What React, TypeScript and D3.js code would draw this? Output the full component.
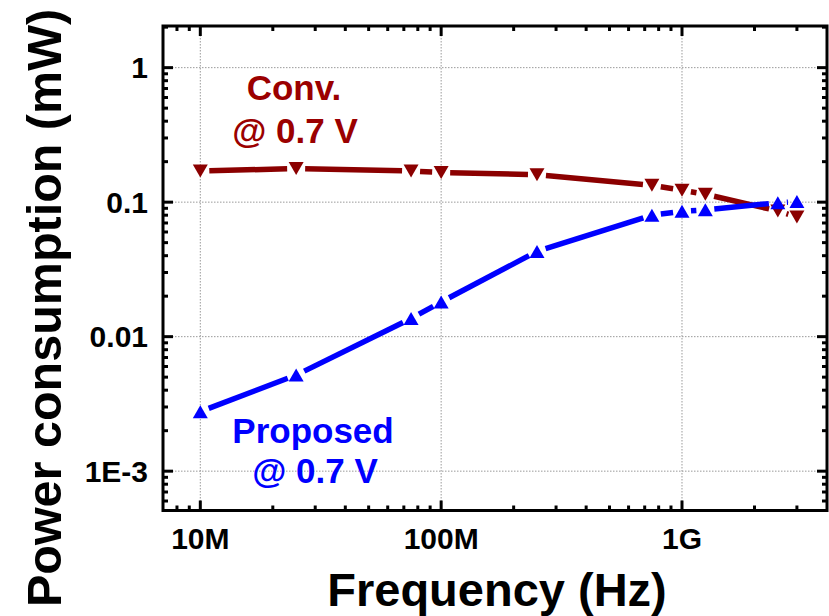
import React from "react";
import * as d3 from "d3";

// frequency points (Hz)
const freqs = [1e7, 2.5e7, 7.5e7, 1e8, 2.5e8, 7.5e8, 1e9, 1.25e9, 2.5e9, 3e9];
// power (mW)
const convPower = [0.1705, 0.1776, 0.1705, 0.166, 0.16, 0.1335, 0.1225, 0.1145, 0.086, 0.0776];
const proposedPower = [0.00277, 0.00518, 0.01365, 0.0181, 0.043, 0.08, 0.0855, 0.0877, 0.099, 0.101];

const xTicks = [1e7, 1e8, 1e9];
const xTickLabels = ["10M", "100M", "1G"];
const yTicks = [1e-3, 1e-2, 1e-1, 1];
const yTickLabels = ["1E-3", "0.01", "0.1", "1"];

const W = 829;
const H = 616;
const left = 163, right = 827, top = 26, bottom = 510.5;
const font = "'Liberation Sans', Arial, sans-serif";
const RED = "#8b0000";
const BLUE = "#0000ff";

const x = d3.scaleLog().domain([7e6, 4e9]).range([left, right]);
const y = d3.scaleLog().domain([5.1e-4, 2.04]).range([bottom, top]);

function minorTicks(scale: any) {
  const [a, b] = scale.domain();
  const out: number[] = [];
  for (let e = Math.floor(Math.log10(a)); e <= Math.ceil(Math.log10(b)); e++) {
    for (let m = 2; m <= 9; m++) {
      const v = m * Math.pow(10, e);
      if (v > a && v < b) out.push(v);
    }
  }
  return out;
}

const tri = (up: boolean) => {
  const w = 15, h = 13;
  return up
    ? `M0,${-h / 2}L${w / 2},${h / 2}L${-w / 2},${h / 2}Z`
    : `M0,${h / 2}L${w / 2},${-h / 2}L${-w / 2},${-h / 2}Z`;
};

function Series({ values, color, up }: { values: number[]; color: string; up: boolean }) {
  const pts = freqs.map((f, i) => [x(f), y(values[i])]);
  const gap = 9;
  const segs = [];
  for (let i = 0; i < pts.length - 1; i++) {
    const [x1, y1] = pts[i];
    const [x2, y2] = pts[i + 1];
    const len = Math.hypot(x2 - x1, y2 - y1);
    if (len <= 2 * gap) continue;
    const ux = (x2 - x1) / len, uy = (y2 - y1) / len;
    segs.push(
      <line key={i} x1={x1 + ux * gap} y1={y1 + uy * gap} x2={x2 - ux * gap} y2={y2 - uy * gap}
        stroke={color} strokeWidth={5.5} />
    );
  }
  return (
    <g>
      {segs}
      {pts.map(([px, py], i) => (
        <path key={i} d={tri(up)} transform={`translate(${px},${py})`} fill={color} />
      ))}
    </g>
  );
}

export default function App() {
  const xMinor = minorTicks(x);
  const yMinor = minorTicks(y);
  return (
    <div style={{ position: "absolute", left: 0, top: 0 }}>
      <svg width={W} height={H} style={{ display: "block", background: "#fff" }} fontFamily={font} fontWeight="bold">
        {/* grid */}
        {xTicks.map((t) => (
          <line key={"gx" + t} x1={x(t)} x2={x(t)} y1={top} y2={bottom} stroke="#9a9a9a" strokeWidth={1} strokeDasharray="1.5,1.5" />
        ))}
        {yTicks.map((t) => (
          <line key={"gy" + t} x1={left} x2={right} y1={y(t)} y2={y(t)} stroke="#9a9a9a" strokeWidth={1} strokeDasharray="1.5,1.5" />
        ))}

        {/* ticks */}
        {xTicks.map((t) => (
          <g key={"tx" + t}>
            <line x1={x(t)} x2={x(t)} y1={bottom} y2={bottom - 10} stroke="#000" strokeWidth={3} />
            <line x1={x(t)} x2={x(t)} y1={top} y2={top + 10} stroke="#000" strokeWidth={3} />
          </g>
        ))}
        {xMinor.map((t) => (
          <g key={"mx" + t}>
            <line x1={x(t)} x2={x(t)} y1={bottom} y2={bottom - 5} stroke="#000" strokeWidth={3} />
            <line x1={x(t)} x2={x(t)} y1={top} y2={top + 5} stroke="#000" strokeWidth={3} />
          </g>
        ))}
        {yTicks.map((t) => (
          <g key={"ty" + t}>
            <line x1={left} x2={left + 10} y1={y(t)} y2={y(t)} stroke="#000" strokeWidth={3} />
            <line x1={right} x2={right - 10} y1={y(t)} y2={y(t)} stroke="#000" strokeWidth={3} />
          </g>
        ))}
        {yMinor.map((t) => (
          <g key={"my" + t}>
            <line x1={left} x2={left + 5} y1={y(t)} y2={y(t)} stroke="#000" strokeWidth={3} />
            <line x1={right} x2={right - 5} y1={y(t)} y2={y(t)} stroke="#000" strokeWidth={3} />
          </g>
        ))}

        {/* frame */}
        <rect x={left} y={top} width={right - left} height={bottom - top} fill="none" stroke="#000" strokeWidth={3} />

        {/* tick labels */}
        {xTicks.map((t, i) => (
          <text key={"lx" + t} x={x(t)} y={549} textAnchor="middle" fontSize={30}>{xTickLabels[i]}</text>
        ))}
        {yTicks.map((t, i) => (
          <text key={"ly" + t} x={148} y={y(t)} dy="0.36em" textAnchor="end" fontSize={30}>{yTickLabels[i]}</text>
        ))}

        {/* axis titles */}
        <text x={497} y={606} textAnchor="middle" fontSize={47}>Frequency (Hz)</text>
        <text transform="translate(61,308) rotate(-90)" textAnchor="middle" fontSize={48.5}>Power consumption (mW)</text>

        {/* series */}
        <Series values={convPower} color={RED} up={false} />
        <Series values={proposedPower} color={BLUE} up={true} />

        {/* annotations */}
        <text x={294} y={100} textAnchor="middle" fontSize={35} fill="#9b0000">Conv.</text>
        <text x={295} y={143} textAnchor="middle" fontSize={35} fill="#9b0000">@ 0.7 V</text>
        <text x={313} y={443} textAnchor="middle" fontSize={35} fill={BLUE}>Proposed</text>
        <text x={315} y={483} textAnchor="middle" fontSize={35} fill={BLUE}>@ 0.7 V</text>
      </svg>
    </div>
  );
}
